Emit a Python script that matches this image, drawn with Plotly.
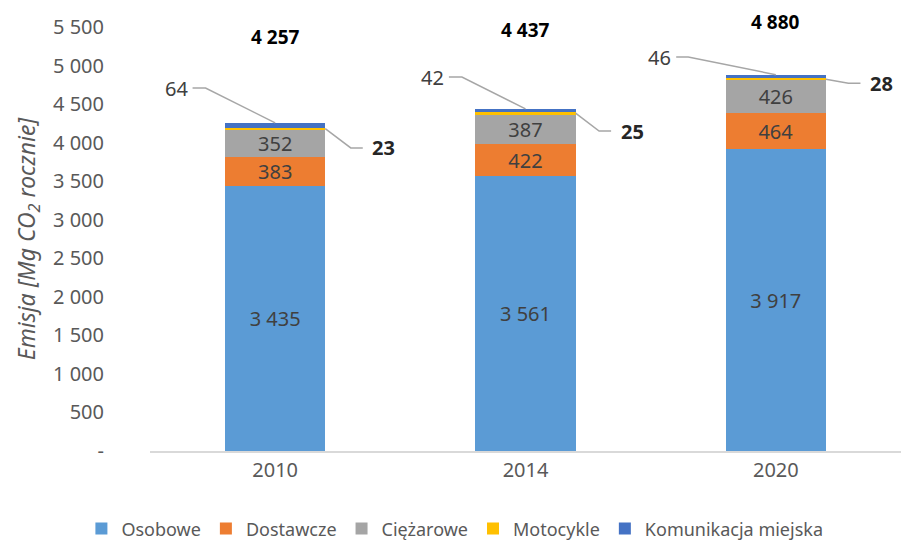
import plotly.graph_objs as go

lata = ['2010', '2014', '2020']
osobowe = [3435, 3561, 3917]
dostawcze = [383, 422, 464]
ciezarowe = [352, 387, 426]
motocykle = [23, 25, 28]
komunikacja = [64, 42, 46]
suma = [4257, 4437, 4880]

y_ticks = [0, 500, 1000, 1500, 2000, 2500, 3000, 3500, 4000, 4500, 5000, 5500]

FONT = 'Noto Sans'
SZARY = '#595959'


def fmt(v):
    return f"{v:,}".replace(",", " ")


x = list(range(len(lata)))
fig = go.Figure()

serie = [
    ('Osobowe', osobowe, '#5B9BD5', True),
    ('Dostawcze', dostawcze, '#ED7D31', True),
    ('Ciężarowe', ciezarowe, '#A5A5A5', True),
    ('Motocykle', motocykle, '#FFC000', False),
    ('Komunikacja miejska', komunikacja, '#4472C4', False),
]
for nazwa, vals, kolor, etykieta in serie:
    fig.add_trace(go.Bar(
        x=x, y=vals, name=nazwa, marker=dict(color=kolor, line=dict(width=0)),
        width=0.4,
        text=[fmt(v) for v in vals] if etykieta else None,
        textposition='inside' if etykieta else 'none',
        insidetextanchor='middle', constraintext='none',
        textfont=dict(family=FONT, size=20, color='#404040'),
        hoverinfo='name+y',
    ))

# sumy nad slupkami (przesuniecie w px)
shift_sum = [86, 79, 53]
for i, s in enumerate(suma):
    fig.add_annotation(x=i, y=osobowe[i] + dostawcze[i] + ciezarowe[i] + motocykle[i] + komunikacja[i],
                       text='<b>' + fmt(s) + '</b>', showarrow=False, yshift=shift_sum[i],
                       font=dict(family=FONT, size=19, color='black'))

# linie odniesienia dla malych segmentow
# komunikacja: (dx zalamania, dx konca, dy nad szczytem), motocykle: (dx, dx, dy wzgl. segmentu)
kom_pos = [(-0.278, -0.33, 451), (-0.254, -0.306, 414), (-0.35, -0.398, 229)]
mot_pos = [(0.302, 0.35, -250), (0.294, 0.342, -232), (0.29, 0.338, -50)]
LINIA = dict(color='#A6A6A6', width=1.5)
for i in range(len(lata)):
    top = osobowe[i] + dostawcze[i] + ciezarowe[i] + motocykle[i] + komunikacja[i]
    d1, d2, dy = kom_pos[i]
    yk = top + dy
    fig.add_shape(type='path', xref='x', yref='y', line=LINIA,
                  path=f"M {i},{top} L {i + d1},{yk} L {i + d2},{yk}")
    fig.add_annotation(x=i + d2 - 0.012, y=yk, text=fmt(komunikacja[i]), showarrow=False,
                       xanchor='right', font=dict(family=FONT, size=20, color='#404040'))

    ym = osobowe[i] + dostawcze[i] + ciezarowe[i] + motocykle[i] / 2
    m1, m2, mdy = mot_pos[i]
    yl = ym + mdy
    fig.add_shape(type='path', xref='x', yref='y', line=LINIA,
                  path=f"M {i + 0.2},{ym} L {i + m1},{yl} L {i + m2},{yl}")
    fig.add_annotation(x=i + m2 + 0.03, y=yl, text='<b>' + fmt(motocykle[i]) + '</b>', showarrow=False,
                       xanchor='left', font=dict(family=FONT, size=20, color='#262626'))

fig.update_layout(
    barmode='stack',
    width=901, height=546,
    margin=dict(l=150, r=0, t=27, b=95, autoexpand=False),
    plot_bgcolor='white', paper_bgcolor='white',
    font=dict(family=FONT, color=SZARY, size=20),
    showlegend=True,
    legend=dict(orientation='h', x=0.406, xanchor='center', y=-0.14, yanchor='top',
                font=dict(size=18, color=SZARY), traceorder='normal', itemwidth=30),
    xaxis=dict(tickvals=x, ticktext=lata, range=[-0.5, 2.5], showgrid=False, automargin=False,
               showline=True, linecolor='#D9D9D9', linewidth=1.5, ticks='',
               tickfont=dict(size=20, color=SZARY)),
    yaxis=dict(range=[0, 5500], tickvals=y_ticks, automargin=False,
               ticktext=['-'] + [fmt(v) for v in y_ticks[1:]],
               showgrid=False, zeroline=False, showline=False, ticks='',
               ticklabelstandoff=45, tickfont=dict(size=20, color=SZARY),
               title=dict(text='<i>Emisja [Mg CO<sub>2</sub> rocznie]</i>', standoff=10,
                          font=dict(size=23, color=SZARY))),
)

fig.write_html("out.html", config={'displayModeBar': False},
               post_script="document.body.style.margin='0';")
